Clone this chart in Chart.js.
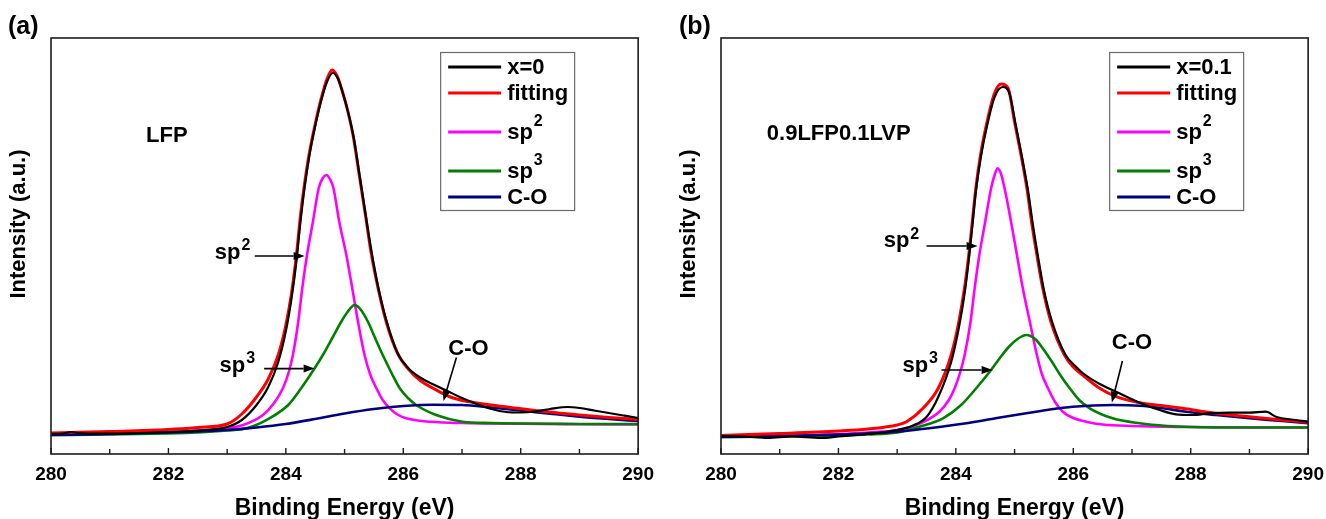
<!DOCTYPE html>
<html>
<head>
<meta charset="utf-8">
<title>C 1s XPS spectra</title>
<script src="https://cdn.jsdelivr.net/npm/chart.js@4.4.1/dist/chart.umd.min.js"></script>
<style>
  html, body { margin: 0; padding: 0; background: #ffffff; }
  #wrap { position: relative; width: 1326px; height: 519px; overflow: hidden; background: #ffffff; }
  #wrap canvas { position: absolute; top: 0; }
  #panelA { left: 0; }
  #panelB { left: 670px; }
</style>
</head>
<body>
<div id="wrap">
  <canvas id="panelA" width="663" height="519"></canvas>
  <canvas id="panelB" width="663" height="519"></canvas>
</div>
<script>
// ---------- axis ----------
const X_MIN = 280;
const X_MAX = 290;
const X_LABELS = [280, 282, 284, 286, 288, 290];
const Y_MIN = 1;
const Y_MAX = 417;

// ---------- (a) LFP, x = 0 ----------
const A_RAW_E = [280, 280.2, 280.35, 280.45, 280.6, 281, 281.5, 282, 282.5, 283, 283.25, 283.5, 283.7, 283.87, 284.0, 284.1, 284.18, 284.25, 284.32, 284.4, 284.5, 284.6, 284.7, 284.8, 284.89, 284.97, 285.06, 285.16, 285.26, 285.36, 285.46, 285.58, 285.72, 285.91, 286.1, 286.3, 286.5, 286.75, 287.0, 287.25, 287.5, 287.75, 288.0, 288.25, 288.5, 288.8, 289.0, 289.25, 289.5, 289.75, 290];
const A_RAW_I = [21, 21.5, 23, 22, 21.5, 21.5, 22, 23, 24.5, 28, 35, 50, 68, 93, 124, 158, 194, 234, 268, 299, 329, 354, 373, 382, 376, 362, 343, 316, 278, 240, 203, 166, 133, 101, 86, 77, 71, 64, 57, 51, 46, 43, 42.5, 43.5, 46, 48, 47, 44.5, 42, 39.5, 37];

const A_FIT_E = [280, 281, 282, 282.5, 283, 283.25, 283.5, 283.7, 283.87, 284.0, 284.1, 284.18, 284.25, 284.32, 284.4, 284.5, 284.6, 284.7, 284.79, 284.88, 284.96, 285.05, 285.15, 285.25, 285.35, 285.45, 285.57, 285.71, 285.9, 286.1, 286.3, 286.5, 286.8, 287.1, 287.5, 287.9, 288.4, 289.0, 289.5, 290];
const A_FIT_I = [22, 23.5, 25.5, 27.5, 31, 41, 58, 76, 100, 130, 163, 200, 240, 272, 302, 331, 356, 376, 385, 378, 364, 345, 318, 280, 242, 203, 167, 133, 102, 85, 74, 67, 58, 53.5, 50, 47, 43.5, 40, 37.5, 35.5];

const A_SP2_E = [280, 281, 282, 282.5, 283, 283.27, 283.61, 283.8, 283.95, 284.05, 284.12, 284.21, 284.28, 284.36, 284.46, 284.56, 284.63, 284.69, 284.75, 284.81, 284.91, 285.03, 285.13, 285.23, 285.34, 285.44, 285.54, 285.65, 285.77, 285.9, 286.05, 286.25, 286.45, 287, 288, 289, 290];
const A_SP2_I = [20.5, 21.5, 23, 24.5, 27, 30, 40, 52, 66.7, 83, 100, 133, 167, 200, 233, 267, 277, 280, 276, 267, 233, 200, 167, 133, 100, 80, 67, 55, 46.7, 40.5, 36.7, 34.5, 33.3, 32, 31.2, 30.8, 30.5];

const A_SP3_E = [280, 281, 282, 282.5, 283, 283.33, 283.72, 284.04, 284.26, 284.49, 284.63, 284.8, 284.94, 285.05, 285.17, 285.28, 285.4, 285.52, 285.65, 285.8, 285.94, 286.08, 286.22, 286.56, 287.01, 287.5, 288, 289, 290];
const A_SP3_I = [20, 20.5, 21.5, 22.5, 24.5, 26.7, 36.7, 50, 66.7, 86.7, 100, 118, 133, 143, 150, 145, 133, 117, 100, 82, 66.7, 57, 50, 40, 33.3, 32, 31.5, 31, 31];

const A_CO_E = [280, 281, 282, 282.5, 283, 283.5, 284, 284.5, 285, 285.5, 286, 286.5, 287, 287.5, 288, 288.5, 289, 289.5, 290];
const A_CO_I = [20, 21, 22.5, 23.5, 25, 27.5, 31, 36, 41.5, 46, 49, 50.3, 50, 47.5, 44.5, 41.3, 38.3, 36, 34];

const A_NAMES = ['x=0', 'fitting', 'sp^2', 'sp^3', 'C-O'];

// ---------- (b) 0.9LFP0.1LVP, x = 0.1 ----------
const B_RAW_E = [280, 280.4, 280.8, 281.2, 281.7, 282.0, 282.5, 283, 283.25, 283.5, 283.7, 283.92, 284.05, 284.15, 284.22, 284.28, 284.34, 284.42, 284.53, 284.66, 284.8, 284.91, 285.02, 285.13, 285.23, 285.31, 285.4, 285.5, 285.64, 285.87, 286.05, 286.16, 286.45, 286.73, 287.13, 287.47, 287.75, 288.03, 288.32, 288.66, 289.0, 289.28, 289.45, 289.79, 290];
const B_RAW_I = [19, 18.5, 17, 18.5, 17, 18.5, 21, 25, 29, 38, 58, 93, 127, 162, 195, 229, 263, 296, 329, 358, 368, 362, 330, 297, 264, 231, 198, 165, 133, 100, 88, 82, 71, 63.3, 52.3, 45, 40.7, 40, 41.7, 42.3, 42.3, 43.3, 38.3, 35, 33.3];

const B_FIT_E = [280, 281, 282, 282.5, 283, 283.16, 283.44, 283.7, 283.92, 284.05, 284.15, 284.22, 284.28, 284.34, 284.42, 284.53, 284.66, 284.77, 284.89, 285.0, 285.11, 285.21, 285.29, 285.38, 285.48, 285.62, 285.85, 286.0, 286.16, 286.45, 286.73, 287.13, 287.5, 287.86, 288.43, 289.0, 289.56, 290];
const B_FIT_I = [19.5, 21.5, 24, 26, 30, 33.3, 46.7, 66.7, 100, 133, 168, 200, 233, 266.7, 300, 333, 362, 371, 366.7, 333, 300, 266.7, 233, 200, 166.7, 133, 100, 88, 80, 66.7, 58.3, 52.3, 49.5, 46.7, 41.7, 38.3, 35, 32.7];

const B_SP2_E = [280, 281, 282, 282.5, 283, 283.33, 283.72, 283.88, 283.98, 284.07, 284.15, 284.25, 284.32, 284.4, 284.5, 284.6, 284.66, 284.71, 284.77, 284.83, 284.94, 285.04, 285.14, 285.26, 285.38, 285.47, 285.57, 285.69, 285.82, 286.0, 286.22, 286.5, 287, 288, 289, 290];
const B_SP2_I = [18.5, 19.5, 21, 22.5, 25, 30, 43.3, 55, 66.7, 82, 100, 133.3, 166.7, 200, 233.3, 266.7, 280, 286.7, 281, 266.7, 233.3, 200, 166.7, 133.3, 100, 80, 66.7, 53, 43.3, 37, 33.3, 30.5, 29, 28, 27.5, 27.5];

const B_SP3_E = [280, 281, 282, 282.5, 283, 283.38, 283.78, 284.09, 284.35, 284.6, 284.75, 284.9, 285.05, 285.2, 285.35, 285.5, 285.65, 285.8, 285.94, 286.1, 286.28, 286.67, 287.13, 287.6, 288, 289, 290];
const B_SP3_I = [18, 18.5, 19.5, 20.5, 22.5, 28.3, 36.7, 50, 67, 85, 97, 108, 116, 120, 116, 105, 92, 78, 66.7, 55, 46.7, 36.7, 31.7, 29, 28, 27.5, 27.5];

const B_CO_E = [280, 281, 282, 283, 283.5, 284.18, 284.7, 285.2, 285.6, 285.99, 286.67, 287.13, 287.5, 287.86, 288.43, 289.0, 289.56, 290];
const B_CO_I = [18, 19, 20.5, 23.3, 26.5, 31.7, 37, 41.7, 45.5, 48.3, 50, 49.3, 47, 43.8, 40, 36.7, 34, 31.7];

const B_NAMES = ['x=0.1', 'fitting', 'sp^2', 'sp^3', 'C-O'];

// ---------- styling ----------
const FONT_FAMILY = '"Liberation Sans", Arial, Helvetica, sans-serif';
const SERIES_COLORS = ['#000000', '#ff0000', '#ff00ff', '#008000', '#000080'];
const SERIES_WIDTHS = [2.2, 3, 2.6, 2.6, 2.6];
const SERIES_ORDER = [0, 1, 4, 3, 2];   // lower value is drawn on top

Chart.defaults.font.family = FONT_FAMILY;
Chart.defaults.color = '#000000';

function toPoints(es, vs) {
  return es.map((e, i) => ({ x: e, y: vs[i] }));
}

// Text with an optional superscript, written as "sp^2".
function drawRich(ctx, label, x, y, opt) {
  const parts = label.split('^');
  const main = parts[0];
  const sup = parts[1] || '';
  ctx.font = 'bold ' + opt.size + 'px ' + FONT_FAMILY;
  const wMain = ctx.measureText(main).width;
  ctx.font = 'bold ' + opt.supSize + 'px ' + FONT_FAMILY;
  const wSup = sup ? ctx.measureText(sup).width + 1 : 0;
  let x0 = x;
  if (opt.align === 'center') x0 = x - (wMain + wSup) / 2;
  ctx.textAlign = 'left';
  ctx.textBaseline = opt.baseline;
  ctx.font = 'bold ' + opt.size + 'px ' + FONT_FAMILY;
  ctx.fillText(main, x0, y);
  if (sup) {
    ctx.font = 'bold ' + opt.supSize + 'px ' + FONT_FAMILY;
    ctx.fillText(sup, x0 + wMain + 1, y - opt.raise);
  }
}

function drawArrow(ctx, x1, y1, x2, y2) {
  const ang = Math.atan2(y2 - y1, x2 - x1);
  const head = 11, half = 4;
  const bx = x2 - head * Math.cos(ang), by = y2 - head * Math.sin(ang);
  ctx.strokeStyle = '#000000';
  ctx.fillStyle = '#000000';
  ctx.lineWidth = 1.6;
  ctx.beginPath();
  ctx.moveTo(x1, y1);
  ctx.lineTo(bx, by);
  ctx.stroke();
  ctx.beginPath();
  ctx.moveTo(x2, y2);
  ctx.lineTo(bx + half * Math.sin(ang), by - half * Math.cos(ang));
  ctx.lineTo(bx - half * Math.sin(ang), by + half * Math.cos(ang));
  ctx.closePath();
  ctx.fill();
}

// Frame, inward ticks, y title, peak labels, legend and panel letter.
const decorPlugin = {
  id: 'decor',
  afterDatasetsDraw(chart, args, o) {
    const ctx = chart.ctx;
    const a = chart.chartArea;
    const xs = chart.scales.x;
    const ys = chart.scales.y;
    ctx.save();

    // plot frame
    ctx.strokeStyle = '#1c1c1c';
    ctx.lineWidth = 1.6;
    ctx.strokeRect(a.left, a.top, a.right - a.left, a.bottom - a.top);

    // tick marks pointing into the plot
    ctx.lineWidth = 1.4;
    xs.ticks.forEach(t => {
      const px = xs.getPixelForValue(t.value);
      ctx.beginPath();
      ctx.moveTo(px, a.bottom);
      ctx.lineTo(px, a.bottom - (t.label ? 6 : 5));
      ctx.stroke();
    });

    // vertical axis title
    ctx.save();
    ctx.translate(o.yTitle.x, o.yTitle.y);
    ctx.rotate(-Math.PI / 2);
    ctx.fillStyle = '#000000';
    ctx.font = 'bold 22px ' + FONT_FAMILY;
    ctx.textAlign = 'center';
    ctx.textBaseline = 'middle';
    ctx.fillText(o.yTitle.text, 0, 0);
    ctx.restore();

    // labels inside the plot
    ctx.fillStyle = '#000000';
    o.notes.forEach(n => {
      drawRich(ctx, n.text, xs.getPixelForValue(n.e), ys.getPixelForValue(n.v),
        { size: 22, supSize: 16, raise: n.raise || 9, align: n.align || 'left', baseline: n.baseline || 'alphabetic' });
    });
    o.arrows.forEach(r => {
      drawArrow(ctx, xs.getPixelForValue(r.from[0]), ys.getPixelForValue(r.from[1]),
                     xs.getPixelForValue(r.to[0]), ys.getPixelForValue(r.to[1]));
    });

    // legend box
    const L = o.legend;
    const bx = a.right - L.fromRight;
    const by = a.top + L.fromTop;
    ctx.strokeStyle = '#6b6b6b';
    ctx.lineWidth = 1.2;
    ctx.strokeRect(bx + 0.5, by + 0.5, L.width, L.height);
    let ry = by + 15;
    chart.data.datasets.forEach((ds, i) => {
      if (i > 0) ry += 26 + (ds.label.includes('^') ? 13 : 0);
      ctx.strokeStyle = ds.borderColor;
      ctx.lineWidth = 3;
      ctx.beginPath();
      ctx.moveTo(bx + 8, ry);
      ctx.lineTo(bx + 61, ry);
      ctx.stroke();
      ctx.fillStyle = '#000000';
      drawRich(ctx, ds.label, bx + 67, ry + 1, { size: 22, supSize: 16, raise: 11, align: 'left', baseline: 'middle' });
    });

    // panel letter
    ctx.fillStyle = '#000000';
    ctx.font = 'bold 25px ' + FONT_FAMILY;
    ctx.textAlign = 'left';
    ctx.textBaseline = 'middle';
    ctx.fillText(o.letter, o.letterX, o.letterY);

    ctx.restore();
  }
};

function makePanel(canvasId, series, names, decor) {
  const datasets = series.map((s, i) => ({
    label: names[i],
    data: toPoints(s[0], s[1]),
    borderColor: SERIES_COLORS[i],
    backgroundColor: SERIES_COLORS[i],
    borderWidth: SERIES_WIDTHS[i],
    pointRadius: 0,
    fill: false,
    cubicInterpolationMode: 'monotone',
    order: SERIES_ORDER[i]
  }));
  return new Chart(document.getElementById(canvasId), {
    type: 'line',
    data: { datasets },
    options: {
      responsive: false,
      animation: false,
      devicePixelRatio: 1,
      events: [],
      layout: { padding: { top: 38, right: 24, left: 0, bottom: 0 } },
      plugins: {
        legend: { display: false },
        tooltip: { enabled: false },
        decor: decor
      },
      scales: {
        x: {
          type: 'linear',
          min: X_MIN,
          max: X_MAX,
          grid: { display: false, drawTicks: false },
          border: { display: false },
          ticks: {
            stepSize: 1,
            autoSkip: false,
            maxRotation: 0,
            padding: 9,
            color: '#000000',
            font: { size: 19, weight: 'bold' },
            callback: v => (X_LABELS.includes(v) ? String(v) : '')
          },
          title: {
            display: true,
            text: 'Binding Energy (eV)',
            color: '#000000',
            font: { size: 23, weight: 'bold' },
            padding: { top: 0, bottom: -3 }
          },
          afterFit: s => { s.height = 65; }
        },
        y: {
          type: 'linear',
          min: Y_MIN,
          max: Y_MAX,
          grid: { display: false, drawTicks: false },
          border: { display: false },
          ticks: { display: false },
          title: { display: false },
          afterFit: s => { s.width = 51; }
        }
      }
    },
    plugins: [decorPlugin]
  });
}

makePanel('panelA',
  [[A_RAW_E, A_RAW_I], [A_FIT_E, A_FIT_I], [A_SP2_E, A_SP2_I], [A_SP3_E, A_SP3_I], [A_CO_E, A_CO_I]],
  A_NAMES,
  {
    letter: '(a)', letterX: 8, letterY: 27,
    yTitle: { text: 'Intensity (a.u.)', x: 19, y: 224 },
    legend: { fromRight: 198, fromTop: 14, width: 134, height: 158 },
    notes: [
      { text: 'LFP', e: 281.62, v: 319.5, baseline: 'middle' },
      { text: 'sp^2', e: 282.79, v: 196 },
      { text: 'sp^3', e: 282.87, v: 82.6 },
      { text: 'C-O', e: 287.11, v: 106.5, align: 'center', baseline: 'middle' }
    ],
    arrows: [
      { from: [283.47, 199], to: [284.32, 199] },
      { from: [283.63, 86.4], to: [284.49, 86.4] },
      { from: [286.905, 97.4], to: [286.684, 54] }
    ]
  });

makePanel('panelB',
  [[B_RAW_E, B_RAW_I], [B_FIT_E, B_FIT_I], [B_SP2_E, B_SP2_I], [B_SP3_E, B_SP3_I], [B_CO_E, B_CO_I]],
  B_NAMES,
  {
    letter: '(b)', letterX: 9, letterY: 27,
    yTitle: { text: 'Intensity (a.u.)', x: 19, y: 224 },
    legend: { fromRight: 199, fromTop: 14, width: 134, height: 158 },
    notes: [
      { text: '0.9LFP0.1LVP', e: 280.78, v: 321.3, baseline: 'middle' },
      { text: 'sp^2', e: 282.77, v: 207.6, raise: 8 },
      { text: 'sp^3', e: 283.09, v: 82.6 },
      { text: 'C-O', e: 287.0, v: 112.5, align: 'center', baseline: 'middle' }
    ],
    arrows: [
      { from: [283.5, 209], to: [284.37, 209] },
      { from: [283.755, 85], to: [284.626, 85] },
      { from: [286.837, 94], to: [286.658, 52.4] }
    ]
  });
</script>
</body>
</html>
